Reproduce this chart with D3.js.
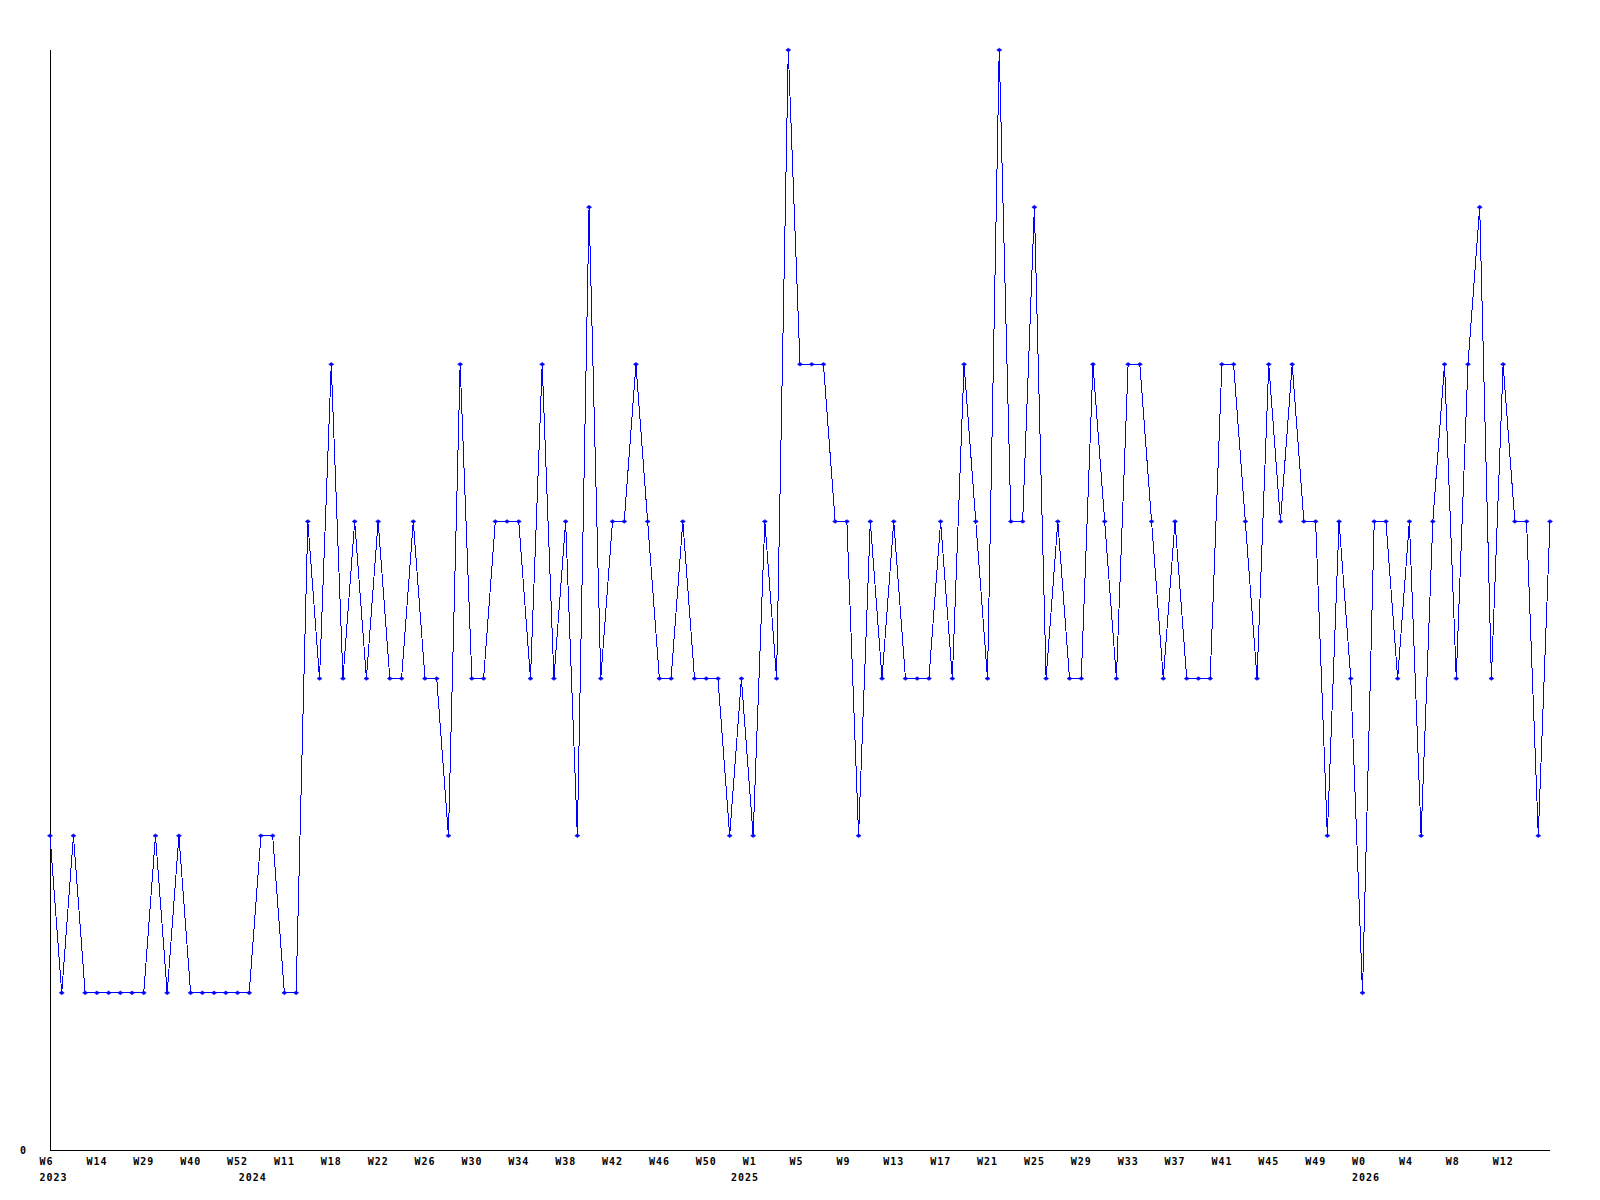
<!DOCTYPE html>
<html lang="en">
<head>
<meta charset="UTF-8">
<title>Weekly counts</title>
<script src="https://cdn.jsdelivr.net/npm/d3@7"></script>
<style>
  body { margin: 0; background: #fff; }
  .lbl { font-family: "DejaVu Sans Mono", monospace; font-weight: bold; font-size: 10px; letter-spacing: 1px; fill: #000; }
</style>
</head>
<body>
<script>
// one value per week, oldest first
var values = [
  2,1,2,1,1,1,1,1,1,2,1,2,1,1,1,1,1,1,2,2,
  1,1,4,3,5,3,4,3,4,3,3,4,3,3,2,5,3,3,4,4,
  4,3,5,3,4,2,6,3,4,4,5,4,3,3,4,3,3,3,2,3,
  2,4,3,7,5,5,5,4,4,2,4,3,4,3,3,3,4,3,5,4,
  3,7,4,4,6,3,4,3,3,5,4,3,5,5,4,3,4,3,3,3,
  5,5,4,3,5,4,5,4,4,2,4,3,1,4,4,3,4,2,4,5,
  3,5,6,3,5,4,4,2,4
];
// week ticks (index into values) and their labels
var tickPos  = [0,4,8,12,16,20,24,28,32,36,40,44,48,52,56,60,64,68,72,76,80,84,88,92,96,100,104,108,112,116,120,124];
var tickText = ["W6","W14","W29","W40","W52","W11","W18","W22","W26","W30","W34","W38","W42","W46","W50","W1","W5","W9","W13","W17","W21","W25","W29","W33","W37","W41","W45","W49","W0","W4","W8","W12"];
// first week of each year
var yearPos  = [0,17,59,112];
var yearText = ["2023","2024","2025","2026"];

var w = 1600, h = 1200;
var padL = 50, padR = 1550, padT = 50, padB = 1150;

var svg = d3.select("body").append("svg")
  .attr("width", w)
  .attr("height", h);

var xScale = d3.scaleLinear().domain([0, values.length - 1]).range([padL, padR]);
var yScale = d3.scaleLinear().domain([0, d3.max(values)]).range([padB, padT]);

// axes (plain lines, no tick marks)
svg.append("line")
  .attr("x1", padL + 0.5).attr("x2", padL + 0.5)
  .attr("y1", yScale(d3.max(values))).attr("y2", padB + 0.5)
  .attr("stroke", "#000").attr("stroke-width", 1);
svg.append("line")
  .attr("x1", padL).attr("x2", padR)
  .attr("y1", padB + 0.5).attr("y2", padB + 0.5)
  .attr("stroke", "#000").attr("stroke-width", 1);

svg.append("text")
  .attr("class", "lbl")
  .attr("x", 20).attr("y", yScale(0) + 3.5)
  .text("0");

svg.selectAll("text.wk")
  .data(tickPos)
  .enter().append("text")
  .attr("class", "lbl wk")
  .attr("x", function(d) { return xScale(d) - 10.5; })
  .attr("y", padB + 15)
  .text(function(d, i) { return tickText[i]; });

svg.selectAll("text.yr")
  .data(yearPos)
  .enter().append("text")
  .attr("class", "lbl yr")
  .attr("x", function(d) { return xScale(d) - 10.5; })
  .attr("y", padB + 30.5)
  .text(function(d, i) { return yearText[i]; });

// the series, drawn aliased like the original bitmap
var line = d3.line()
  .x(function(d, i) { return xScale(i); })
  .y(function(d) { return yScale(d); });

svg.append("path")
  .datum(values)
  .attr("d", line)
  .attr("fill", "none")
  .attr("stroke", "#0000ff")
  .attr("stroke-width", 1)
  .attr("shape-rendering", "crispEdges");

svg.selectAll("path.mk")
  .data(values)
  .enter().append("path")
  .attr("class", "mk")
  .attr("transform", function(d, i) { return "translate(" + xScale(i) + "," + yScale(d) + ")"; })
  .attr("d", "M-2.5,0L0,-1.8L2.5,0L0,1.8Z")
  .attr("fill", "#0000ff")
  .attr("stroke", "#0000ff")
  .attr("stroke-width", 0.6);
</script>
</body>
</html>
